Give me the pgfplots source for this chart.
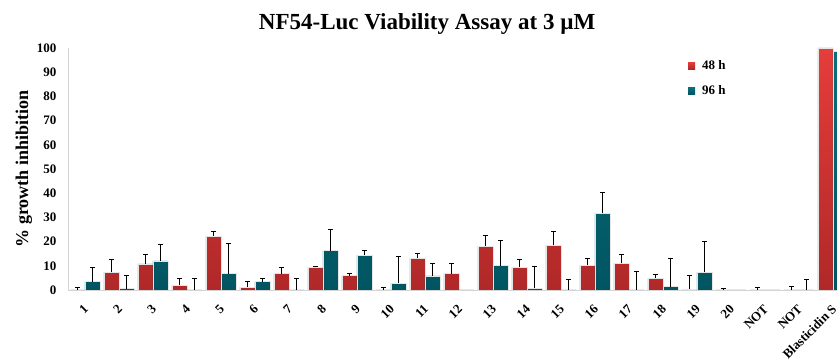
\documentclass[border=0pt]{standalone}
\usepackage{fontspec}
\setmainfont{Liberation Serif}
\usepackage{pgfplots}
\usepackage{pgfplotstable}
\pgfplotsset{compat=1.18}

\definecolor{redtop}{HTML}{E53D3A}
\definecolor{redbot}{HTML}{B02828}
\definecolor{tealtop}{HTML}{0B6E7A}
\definecolor{tealbot}{HTML}{005561}
\definecolor{axgray}{HTML}{D4D4D4}

\pgfplotstableread{
x r rerr t terr
1 0 1.0 3.5 5.8
2 7.3 5.3 0.5 5.5
3 10.8 3.9 12.0 7.0
4 1.9 2.7 0 4.6
5 22.3 1.7 6.8 12.6
6 1.2 2.3 3.5 1.3
7 6.8 2.6 0 4.6
8 9.3 0.5 16.3 8.6
9 5.9 1.1 14.4 1.9
10 0 1.0 2.8 11.0
11 13.1 1.8 5.8 5.2
12 6.8 4.1 0 0
13 18.0 4.4 10.0 10.5
14 9.3 3.1 0.8 9.0
15 18.4 5.9 0 4.4
16 10.2 2.9 31.7 8.4
17 11.0 3.8 0 7.7
18 4.8 1.6 1.4 11.7
19 0.4 5.5 7.3 12.7
20 0 0.7 0 0
21 0 1.0 0 0
22 0 1.4 0 4.2
23 100 0 98.6 0
}\datatable

\pgfplotstableread{
x r rerr
1 0 1.0
2 7.3 5.3
3 10.8 3.9
4 1.9 2.7
5 22.3 1.7
6 1.2 2.3
7 6.8 2.6
8 9.3 0.5
9 5.9 1.1
10 0 1.0
11 13.1 1.8
12 6.8 4.1
13 18.0 4.4
14 9.3 3.1
15 18.4 5.9
16 10.2 2.9
17 11.0 3.8
18 4.8 1.6
19 0.4 5.5
20 0 0.7
21 0 1.0
22 0 1.4
}\rederr

\pgfplotstableread{
x t terr
1 3.5 5.8
2 0.5 5.5
3 12.0 7.0
4 0 4.6
5 6.8 12.6
6 3.5 1.3
7 0 4.6
8 16.3 8.6
9 14.4 1.9
10 2.8 11.0
11 5.8 5.2
13 10.0 10.5
14 0.8 9.0
15 0 4.4
16 31.7 8.4
17 0 7.7
18 1.4 11.7
19 7.3 12.7
22 0 4.2
}\tealerr

\begin{document}
\begin{tikzpicture}
\begin{axis}[
  name=ax,
  scale only axis,
  width=769pt, height=242pt,
  xmin=0.5, xmax=23.12,
  ymin=0, ymax=100,
  clip=true,
  axis x line*=bottom,
  axis y line*=left,
  axis line style={axgray, line width=0.8pt},
  x axis line style={-}, y axis line style={-},
  ytick={0,10,...,100},
  xtick={1,...,23},
  xticklabels={1,2,3,4,5,6,7,8,9,10,11,12,13,14,15,16,17,18,19,20,NOT,NOT,Blasticidin S},
  major tick length=0pt,
  /pgf/number format/assume math mode=true,
  tick label style={font=\fontsize{13}{15}\selectfont\bfseries, black},
  yticklabel style={xshift=-8pt},
  xticklabel style={xshift=-2pt, yshift=-9pt, rotate=45, anchor=north east},
  ylabel={\% growth inhibition},
  ylabel style={font=\fontsize{18}{20}\selectfont\bfseries, at={(axis description cs:-0.0575,0.5)}, anchor=center},
  title={NF54-Luc Viability Assay at 3 \textmu M},
  title style={font=\fontsize{23}{26}\selectfont\bfseries, at={(axis description cs:0.467,1)}, anchor=south, inner sep=0pt, yshift=7pt},
  legend style={at={(axis description cs:0.806,0.958)}, anchor=north west, draw=none, fill=none,
    font=\fontsize{13}{15}\selectfont\bfseries, row sep=11pt, inner sep=0pt,
    /tikz/every odd column/.append style={column sep=5pt}},
  legend cell align=left,
  legend image code/.code={\path[#1, draw=none] (0pt,-3.5pt) rectangle (7pt,3.5pt);},
]
\addplot[ybar, bar width=15pt, bar shift=-7.5pt, draw=white!80!gray, line width=0.6pt,
  top color=redtop, bottom color=redbot] table[x=x, y=r] {\datatable};
\addlegendentry{48 h}
\addplot[ybar, bar width=15pt, bar shift=7.5pt, draw=white!80!gray, line width=0.6pt,
  top color=tealtop, bottom color=tealbot] table[x=x, y=t] {\datatable};
\addlegendentry{96 h}

\addplot[forget plot, draw=none, mark=none,
  error bars/.cd, y dir=plus, y explicit,
  error bar style={draw=black, solid, line width=1.1pt},
  error mark=|,
  error mark options={draw=black, solid, mark size=2.2pt, line width=1pt}]
  table[x expr=\thisrow{x}-0.2206, y=r, y error=rerr] {\rederr};
\addplot[forget plot, draw=none, mark=none,
  error bars/.cd, y dir=plus, y explicit,
  error bar style={draw=black, solid, line width=1.1pt},
  error mark=|,
  error mark options={draw=black, solid, mark size=2.2pt, line width=1pt}]
  table[x expr=\thisrow{x}+0.2206, y=t, y error=terr] {\tealerr};
\end{axis}
\pgfresetboundingbox
\path[use as bounding box] ([xshift=-68pt,yshift=-71pt]ax.south west) rectangle ([yshift=48pt]ax.north east);
\end{tikzpicture}
\end{document}
